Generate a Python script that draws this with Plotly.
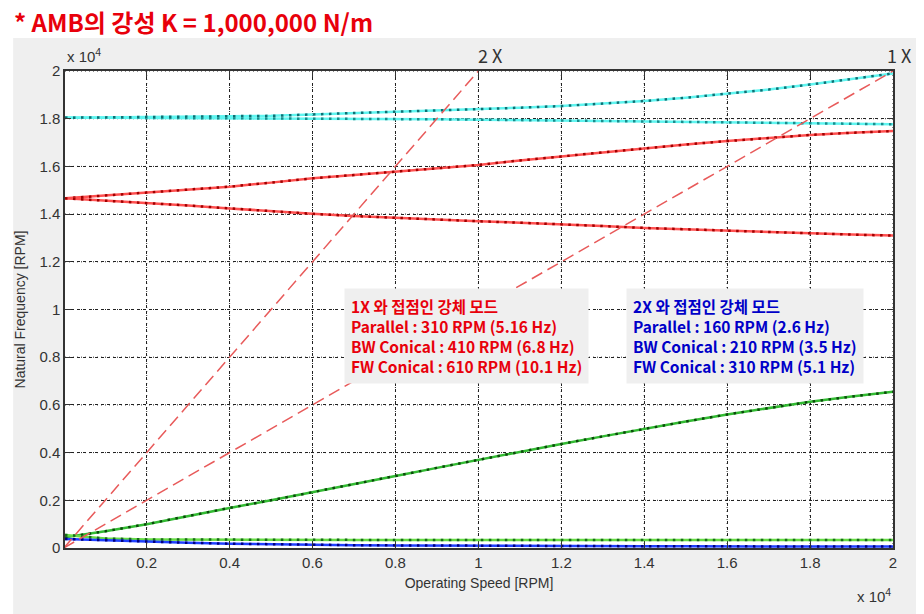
import plotly.graph_objects as go

# operating speed samples [RPM]
speed = [30, 1000, 2000, 3000, 4000, 5000, 6000, 7000, 8000, 9000, 10000,
         11000, 12000, 13000, 14000, 15000, 16000, 17000, 18000, 19000, 20000]

# natural frequencies [RPM]
cyan_fw = [18040, 18050, 18060, 18070, 18080, 18120, 18180, 18230, 18280, 18340, 18400,
           18460, 18530, 18630, 18740, 18880, 19040, 19220, 19430, 19650, 19900]
cyan_bw = [18050, 18045, 18040, 18035, 18030, 18020, 18010, 18000, 17990, 17975, 17960,
           17940, 17920, 17900, 17880, 17860, 17840, 17820, 17800, 17785, 17770]
red_fw = [14660, 14780, 14900, 15020, 15150, 15320, 15500, 15640, 15780, 15920, 16060,
          16250, 16420, 16600, 16770, 16920, 17060, 17200, 17320, 17410, 17480]
red_bw = [14660, 14570, 14480, 14360, 14240, 14120, 14010, 13920, 13840, 13770, 13700,
          13640, 13580, 13500, 13420, 13360, 13300, 13250, 13190, 13140, 13100]
green_fw = [450, 700, 1000, 1350, 1680, 2000, 2350, 2680, 3020, 3360, 3700,
            4030, 4360, 4680, 5000, 5300, 5600, 5880, 6130, 6350, 6550]
green_flat = [550, 400, 360, 350, 345, 340, 340, 340, 340, 340, 340,
              340, 340, 340, 340, 340, 340, 340, 340, 340, 340]
blue_bw = [380, 320, 260, 220, 180, 150, 130, 120, 110, 100, 95,
           90, 85, 80, 75, 72, 70, 67, 65, 62, 60]

# excitation lines
line_speed = [0, 20000]
one_x = [0, 20000]
two_x = [0, 40000]

tick_vals = [2000, 4000, 6000, 8000, 10000, 12000, 14000, 16000, 18000, 20000]
tick_text = ['0.2', '0.4', '0.6', '0.8', '1', '1.2', '1.4', '1.6', '1.8', '2']
ytick_vals = [0] + tick_vals
ytick_text = ['0'] + tick_text

modes = [
    (cyan_bw, '#5ff5f0', '#1a8c8c'),
    (cyan_fw, '#5ff5f0', '#0f6f73'),
    (red_fw, '#ff5050', '#a00000'),
    (red_bw, '#ff5050', '#a00000'),
    (green_fw, '#33bb33', '#0a4a0a'),
    (green_flat, '#66dd44', '#1a6a1a'),
    (blue_bw, '#2040ff', '#000080'),
]

fig = go.Figure()

for y, light, dark in modes:
    fig.add_trace(go.Scatter(x=speed, y=y, mode='lines',
                             line=dict(color=light, width=2.5), hoverinfo='skip'))
    fig.add_trace(go.Scatter(x=speed, y=y, mode='lines',
                             line=dict(color=dark, width=2.5, dash='2.5px,5.5px')))

for y in (one_x, two_x):
    fig.add_trace(go.Scatter(x=line_speed, y=y, mode='lines',
                             line=dict(color='#e85a5a', width=1.5, dash='12px,6px')))

axis_font = dict(family='Liberation Sans, Arial', size=15, color='#333')

fig.update_xaxes(range=[30, 20000], tickvals=tick_vals, ticktext=tick_text,
                 showgrid=True, gridcolor='#222', griddash='dot', gridwidth=1,
                 showline=True, linecolor='#333', linewidth=1.5, mirror='ticks',
                 ticks='inside', ticklen=6, tickcolor='#333', zeroline=False,
                 tickfont=axis_font,
                 title=dict(text='Operating Speed [RPM]', standoff=8,
                            font=dict(family='Liberation Sans, Arial', size=14, color='#333')))
fig.update_yaxes(range=[0, 20000], tickvals=ytick_vals, ticktext=ytick_text,
                 showgrid=True, gridcolor='#222', griddash='dot', gridwidth=1,
                 showline=True, linecolor='#333', linewidth=1.5, mirror='ticks',
                 ticks='inside', ticklen=6, tickcolor='#333', zeroline=False,
                 tickfont=axis_font,
                 title=dict(text='Natural Frequency [RPM]', standoff=10,
                            font=dict(family='Liberation Sans, Arial', size=14, color='#333')))

# dotted grid at the tick positions, under the curves
grid_line = dict(color='#222', width=1, dash='1px,3px')
for v in tick_vals:
    fig.add_shape(type='line', xref='x', yref='paper', x0=v, x1=v, y0=0, y1=1,
                  layer='between', line=grid_line)
for v in tick_vals:
    fig.add_shape(type='line', xref='paper', yref='y', x0=0, x1=1, y0=v, y1=v,
                  layer='between', line=grid_line)

# paper is the grey panel; white strips mask the title area and the left edge
fig.add_shape(type='rect', xref='paper', yref='paper', layer='below',
              x0=-0.2, x1=1.2, y0=1.069, y1=1.3, fillcolor='white', line=dict(width=0))
fig.add_shape(type='rect', xref='paper', yref='paper', layer='below',
              x0=-0.2, x1=-0.0626, y0=-0.3, y1=1.3, fillcolor='white', line=dict(width=0))

ann_font = dict(family='Liberation Sans, Arial', size=15, color='#333')
fig.add_annotation(xref='paper', yref='paper', x=0, y=1, xanchor='left', yanchor='bottom',
                   yshift=4, text='x 10<sup>4</sup>', showarrow=False, font=ann_font)
fig.add_annotation(xref='paper', yref='paper', x=1, y=-0.075, xanchor='right', yanchor='top',
                   text='x 10<sup>4</sup>', showarrow=False, font=ann_font)
fig.add_annotation(xref='x', yref='paper', x=10000, y=1, xanchor='left', yanchor='bottom',
                   yshift=1, xshift=-2, text='2 X', showarrow=False,
                   font=dict(family='Noto Sans CJK KR', size=18, color='#333'))
fig.add_annotation(xref='x', yref='paper', x=20000, y=1, xanchor='center', yanchor='bottom',
                   yshift=1, xshift=6, text='1 X', showarrow=False,
                   font=dict(family='Noto Sans CJK KR', size=18, color='#333'))

box_font = dict(family='Noto Sans CJK KR', size=15.5)
fig.add_annotation(xref='paper', yref='paper', x=0.337, y=0.545, xanchor='left', yanchor='top',
                   align='left', showarrow=False, bgcolor='#efefef', borderpad=6,
                   font=dict(color='#e8000b', **box_font),
                   text='<b>1X 와 접점인 강체 모드<br>Parallel : 310 RPM (5.16 Hz)<br>'
                        'BW Conical : 410 RPM (6.8 Hz)<br>FW Conical : 610 RPM (10.1 Hz)</b>')
fig.add_annotation(xref='paper', yref='paper', x=0.677, y=0.545, xanchor='left', yanchor='top',
                   align='left', showarrow=False, bgcolor='#efefef', borderpad=6,
                   font=dict(color='#0000c8', **box_font),
                   text='<b>2X 와 접점인 강체 모드<br>Parallel : 160 RPM (2.6 Hz)<br>'
                        'BW Conical : 210 RPM (3.5 Hz)<br>FW Conical : 310 RPM (5.1 Hz)</b>')

# the page adds an 8px body margin, so every position is shifted by 8px
fig.update_layout(
    width=924, height=614, autosize=False,
    margin=dict(l=54, r=39, t=63, b=74),
    paper_bgcolor='#efefef', plot_bgcolor='white',
    showlegend=False,
    title=dict(text='<b>* AMB의 강성 K = 1,000,000 N/m</b>', xref='container', yref='container',
               x=6 / 924, y=1 - 16 / 614, xanchor='left', yanchor='middle',
               font=dict(family='Noto Sans CJK KR', size=24, color='#e8000b')),
)

fig.write_html("out.html")
